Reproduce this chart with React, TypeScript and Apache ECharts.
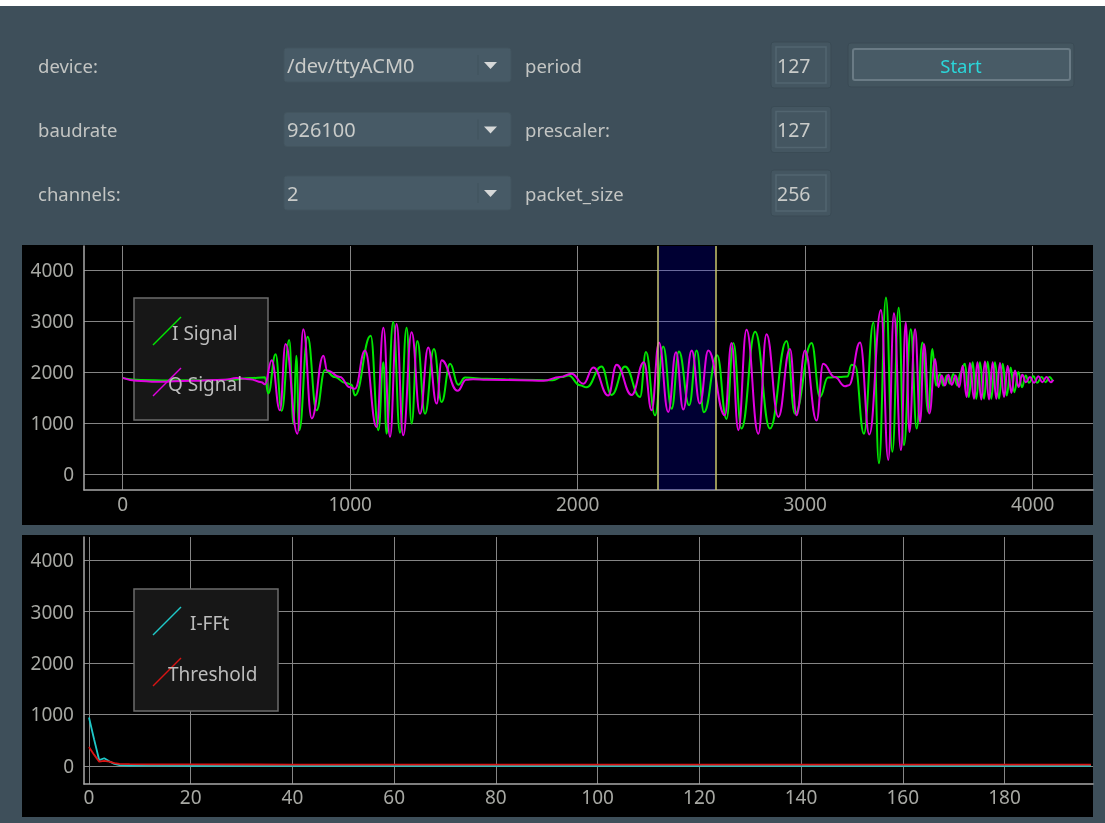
import React, { useEffect, useRef } from "react";
import * as echarts from "echarts";

// ---- control panel contents ----
const serialLabels = ["device:", "baudrate", "channels:"];
const serialValues = ["/dev/ttyACM0", "926100", "2"];
const timerLabels = ["period", "prescaler:", "packet_size"];
const timerValues = ["127", "127", "256"];
const startText = "Start";

// ---- time-domain capture: [sample index, ADC value] ----
const iSignal: [number, number][] = [
  [0, 1880], [80, 1845], [200, 1835], [350, 1840], [480, 1850], [560, 1880], [625, 1895],
  [640, 1580], [672, 2350], [699, 1240], [732, 2630], [751, 980], [763, 2320], [776, 860], [813, 2690], [852, 1250], [889, 2040], [933, 1900], [977, 1790], [1006, 1750],
  [1021, 1540], [1090, 2710], [1124, 860], [1146, 2190], [1160, 790], [1189, 2980], [1219, 810], [1248, 2870], [1270, 990], [1295, 2610], [1329, 1180], [1368, 2450], [1402, 1410], [1439, 2160], [1475, 1750], [1505, 1890],
  [1600, 1870], [1750, 1850], [1890, 1840], [1930, 1900], [1960, 1930],
  [2010, 1740], [2039, 1700], [2105, 2110], [2149, 1550], [2208, 2110], [2274, 1510], [2300, 2390], [2340, 1150], [2376, 2500], [2413, 1280], [2445, 2400], [2490, 1350], [2523, 2420], [2555, 1210], [2613, 2330], [2654, 1080], [2684, 2570], [2720, 890], [2780, 2790],
  [2845, 890], [2918, 2610], [2955, 1180], [3028, 2570], [3065, 1510], [3100, 1890], [3150, 1900], [3185, 1910], [3204, 2140], [3219, 2125],
  [3258, 790], [3300, 2970], [3324, 210], [3355, 3460], [3383, 435], [3411, 3260], [3434, 565], [3464, 2840], [3490, 890], [3515, 2580], [3541, 1215], [3559, 2450], [3575, 1735],
  [3592, 1960], [3607, 1735], [3622, 1930], [3636, 1770], [3651, 1960], [3669, 1735], [3683, 1995],
  [3702, 2160], [3719, 1510], [3736, 2190], [3752, 1475], [3768, 2190], [3786, 1475], [3802, 2200], [3818, 1475], [3834, 2190], [3852, 1475], [3868, 2160], [3886, 1540], [3903, 2090], [3919, 1605], [3937, 2000], [3953, 1700], [3969, 1930],
  [3984, 1790], [4003, 1915], [4020, 1790], [4039, 1900], [4057, 1800], [4073, 1900], [4088, 1815],
];

const qSignal: [number, number][] = [
  [0, 1885], [60, 1830], [150, 1810], [300, 1830], [450, 1850], [500, 1880], [560, 1860], [610, 1800], [625, 1760],
  [655, 2230], [691, 1250], [716, 2550], [768, 790], [794, 2840], [831, 1090], [882, 2320], [899, 2030], [955, 1900], [999, 1700],
  [1021, 1670], [1065, 2420], [1116, 920], [1146, 2870], [1175, 730], [1204, 2940], [1233, 760], [1270, 2780], [1307, 1180], [1343, 2480], [1380, 1380], [1402, 2230], [1472, 1630], [1510, 1850], [1540, 1860],
  [1600, 1850], [1750, 1840], [1850, 1830], [1922, 1900],
  [1973, 1965], [2025, 1770], [2069, 2090], [2134, 1540], [2171, 2140], [2237, 1550], [2291, 2190], [2325, 1250], [2357, 2580], [2398, 1215], [2432, 2385], [2464, 1265], [2501, 2420], [2537, 1380], [2574, 2420], [2647, 1150], [2676, 2570], [2706, 860], [2742, 2830], [2794, 790],
  [2830, 2740], [2882, 1120], [2933, 2450], [2962, 1150], [2999, 2420], [3050, 1050], [3079, 2160], [3130, 1900], [3175, 1720], [3192, 1740],
  [3241, 2580], [3282, 775], [3333, 3215], [3365, 275], [3390, 3150], [3421, 470], [3442, 2970], [3458, 825], [3483, 2840], [3505, 1020], [3522, 2550], [3546, 1185], [3571, 2255], [3585, 1705],
  [3600, 1930], [3614, 1735], [3629, 1945], [3644, 1750], [3661, 1930], [3677, 1705],
  [3692, 2125], [3710, 1510], [3724, 2175], [3742, 1475], [3757, 2190], [3774, 1460], [3790, 2205], [3808, 1460], [3824, 2190], [3840, 1475], [3856, 2175], [3874, 1510], [3890, 2125], [3906, 1590], [3922, 2030], [3938, 1705], [3954, 1945], [3970, 1800],
  [3988, 1900], [4006, 1790], [4025, 1915], [4042, 1800], [4061, 1900], [4079, 1800], [4091, 1850],
];

// analysis window (one packet) highlighted on the capture
const windowStart = 2350;
const windowEnd = 2606;

// ---- spectrum: [bin, magnitude] ----
const iFft: [number, number][] = [
  [0, 940], [1, 520], [2, 115], [3, 150], [4, 90], [5, 40], [6, 15], [8, 8], [12, 5], [20, 4], [40, 3], [80, 3], [120, 2], [160, 2], [197, 2],
];
const threshold: [number, number][] = [
  [0, 370], [1, 220], [2, 85], [3, 100], [4, 85], [5, 55], [6, 42], [8, 36], [12, 33], [20, 30], [40, 28], [80, 27], [120, 26], [160, 25], [197, 25],
];

const topLegend = [
  { name: "I Signal", color: "#00e600" },
  { name: "Q Signal", color: "#e000e0" },
];
const bottomLegend = [
  { name: "I-FFt", color: "#1fc8c8" },
  { name: "Threshold", color: "#d81414" },
];

const FONT = "Noto Sans";
const PANEL = "#3e4f5a";
const UI_TEXT = "#c3c5c3";
const AXIS_TEXT = "#a7a8a3";
const GRID_LINE = "#858585";
const AXIS_LINE = "#a8a8a8";
const SPIN_FILL = "#445661";

function buildGraphics() {
  const els: any[] = [];
  // window background and the two black plot panels
  els.push({ type: "rect", z: -20, shape: { x: 0, y: 6, width: 1105, height: 817 }, style: { fill: PANEL } });
  els.push({ type: "rect", z: -10, shape: { x: 22, y: 245, width: 1071, height: 280 }, style: { fill: "#000" } });
  els.push({ type: "rect", z: -10, shape: { x: 22, y: 535, width: 1071, height: 282 }, style: { fill: "#000" } });

  const rows = [65, 129.5, 193];
  rows.forEach((cy, i) => {
    // serial settings labels and combo boxes
    els.push({
      type: "text", x: 38, y: cy, z: 2,
      style: { text: serialLabels[i], fill: UI_TEXT, fontSize: 18.5, fontFamily: FONT, textAlign: "left", textVerticalAlign: "middle" },
    });
    els.push({ type: "rect", z: 1, shape: { x: 284, y: cy - 17, width: 227, height: 34, r: 3 }, style: { fill: "#475a66", stroke: "#43555f", lineWidth: 1 } });
    els.push({
      type: "text", x: 287, y: cy, z: 2,
      style: { text: serialValues[i], fill: "#c9cbc9", fontSize: 20, fontFamily: FONT, textAlign: "left", textVerticalAlign: "middle" },
    });
    els.push({ type: "line", z: 2, shape: { x1: 478, y1: cy - 10, x2: 478, y2: cy + 10 }, style: { stroke: "#40525d", lineWidth: 1 } });
    els.push({ type: "polygon", z: 2, shape: { points: [[484, cy - 3], [497, cy - 3], [490.5, cy + 4]] }, style: { fill: "#d6d8d8" } });

    // timer labels and spin boxes
    els.push({
      type: "text", x: 525, y: cy, z: 2,
      style: { text: timerLabels[i], fill: UI_TEXT, fontSize: 18.5, fontFamily: FONT, textAlign: "left", textVerticalAlign: "middle" },
    });
    els.push({ type: "rect", z: 1, shape: { x: 771, y: cy - 23, width: 60, height: 46, r: 3 }, style: { fill: SPIN_FILL, stroke: "#3a4b55", lineWidth: 1 } });
    els.push({ type: "rect", z: 1, shape: { x: 776, y: cy - 18, width: 50, height: 36 }, style: { fill: SPIN_FILL, stroke: "#526570", lineWidth: 1.5 } });
    els.push({
      type: "text", x: 777, y: cy, z: 2,
      style: { text: timerValues[i], fill: "#c9cbc9", fontSize: 19.5, fontFamily: FONT, textAlign: "left", textVerticalAlign: "middle" },
    });
  });

  // start button
  els.push({ type: "rect", z: 1, shape: { x: 848, y: 43, width: 226, height: 44, r: 3 }, style: { fill: "#43555f", stroke: "#3a4b55", lineWidth: 1 } });
  els.push({ type: "rect", z: 1, shape: { x: 853, y: 49, width: 217, height: 31, r: 2 }, style: { fill: "#485b66", stroke: "#6a7b85", lineWidth: 2 } });
  els.push({
    type: "text", x: 961, y: 65, z: 2,
    style: { text: startText, fill: "#2bd6d9", fontSize: 18.5, fontFamily: FONT, textAlign: "center", textVerticalAlign: "middle" },
  });

  // legend boxes (drawn over the grid, beneath the traces)
  const legendBox = (x: number, y: number, w: number, h: number, items: { name: string; color: string }[], textX: number[], y0: number) => {
    els.push({ type: "rect", z: 1, shape: { x, y, width: w, height: h }, style: { fill: "#171717", stroke: "#6c6c6c", lineWidth: 1.5 } });
    items.forEach((it, k) => {
      const cy = y0 + k * 51;
      els.push({ type: "line", z: 5, shape: { x1: 153, y1: cy + 12, x2: 181, y2: cy - 16 }, style: { stroke: it.color, lineWidth: 1.5 } });
      els.push({
        type: "text", x: textX[k], y: cy, z: 6,
        style: { text: it.name, fill: "#bcbcbc", fontSize: 19, fontFamily: FONT, textAlign: "left", textVerticalAlign: "middle" },
      });
    });
  };
  legendBox(134, 298, 134, 122, topLegend, [172, 168], 333);
  legendBox(134, 589, 144, 122, bottomLegend, [190, 168], 623);
  return els;
}

const axisLabel = (step: number, margin: number) => ({
  color: AXIS_TEXT,
  fontSize: 19,
  fontFamily: FONT,
  margin,
  formatter: (v: number) => (Math.abs(v % step) < 1e-9 ? String(v) : ""),
});

const valueAxis = (gridIndex: number, min: number, max: number, step: number, margin: number) => ({
  type: "value",
  gridIndex,
  min,
  max,
  minInterval: step,
  maxInterval: step,
  axisLine: { show: true, onZero: false, lineStyle: { color: AXIS_LINE, width: 1.5 } },
  axisTick: { show: false },
  axisLabel: axisLabel(step, margin),
  splitLine: { show: true, showMinLine: false, showMaxLine: false, lineStyle: { color: GRID_LINE, width: 1 } },
});

export default function App() {
  const ref = useRef<HTMLDivElement>(null);

  useEffect(() => {
    if (!ref.current) return;
    const chart = echarts.init(ref.current, undefined, { renderer: "svg" });
    chart.setOption({
      animation: false,
      backgroundColor: "transparent",
      grid: [
        { left: 84, top: 246, right: 12, height: 244 },
        { left: 84, top: 537, right: 12, height: 247 },
      ],
      xAxis: [valueAxis(0, -170, 4265, 1000, 4), valueAxis(1, -0.98, 197.4, 20, 3)],
      yAxis: [valueAxis(0, -314, 4471, 1000, 10), valueAxis(1, -350, 4447, 1000, 10)],
      graphic: { elements: buildGraphics() },
      series: [
        {
          type: "line",
          name: "window",
          xAxisIndex: 0,
          yAxisIndex: 0,
          data: [],
          z: 1,
          silent: true,
          markArea: {
            silent: true,
            itemStyle: { color: "rgba(0,0,255,0.2)" },
            data: [[{ xAxis: windowStart }, { xAxis: windowEnd }]],
          },
          markLine: {
            silent: true,
            symbol: "none",
            label: { show: false },
            lineStyle: { color: "#c8c66e", width: 1.5, type: "solid" },
            data: [{ xAxis: windowStart }, { xAxis: windowEnd }],
          },
        },
        {
          type: "line",
          name: topLegend[0].name,
          xAxisIndex: 0,
          yAxisIndex: 0,
          data: iSignal,
          showSymbol: false,
          smooth: 0.45,
          smoothMonotone: "x",
          lineStyle: { color: topLegend[0].color, width: 2 },
        },
        {
          type: "line",
          name: topLegend[1].name,
          xAxisIndex: 0,
          yAxisIndex: 0,
          data: qSignal,
          showSymbol: false,
          smooth: 0.45,
          smoothMonotone: "x",
          lineStyle: { color: topLegend[1].color, width: 2 },
        },
        {
          type: "line",
          name: bottomLegend[0].name,
          xAxisIndex: 1,
          yAxisIndex: 1,
          data: iFft,
          showSymbol: false,
          lineStyle: { color: bottomLegend[0].color, width: 1.8 },
        },
        {
          type: "line",
          name: bottomLegend[1].name,
          xAxisIndex: 1,
          yAxisIndex: 1,
          data: threshold,
          showSymbol: false,
          lineStyle: { color: bottomLegend[1].color, width: 1.8 },
        },
      ],
    });
    return () => chart.dispose();
  }, []);

  return <div ref={ref} style={{ position: "fixed", left: 0, top: 0, width: 1105, height: 823 }} />;
}
